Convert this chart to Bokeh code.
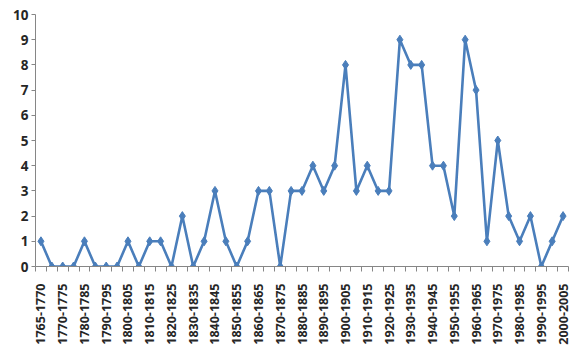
from bokeh.plotting import figure
from bokeh.models import FixedTicker, Range1d
from bokeh.embed import file_html
from bokeh.resources import INLINE

# 49 periods; only every other one is labelled on the axis
tick_labels = ["1765-1770", "1770-1775", "1780-1785", "1790-1795", "1800-1805",
               "1810-1815", "1820-1825", "1830-1835", "1840-1845", "1850-1855",
               "1860-1865", "1870-1875", "1880-1885", "1890-1895", "1900-1905",
               "1910-1915", "1920-1925", "1930-1935", "1940-1945", "1950-1955",
               "1960-1965", "1970-1975", "1980-1985", "1990-1995", "2000-2005"]
counts = [1, 0, 0, 0, 1, 0, 0, 0, 1, 0,
          1, 1, 0, 2, 0, 1, 3, 1, 0, 1,
          3, 3, 0, 3, 3, 4, 3, 4, 8, 3,
          4, 3, 3, 9, 8, 8, 4, 4, 2, 9,
          7, 1, 5, 2, 1, 2, 0, 1, 2]
y_ticks = [0, 1, 2, 3, 4, 5, 6, 7, 8, 9, 10]

n = len(counts)
xs = list(range(n))
label_pos = list(range(0, n, 2))

p = figure(width=580, height=360, output_backend="svg", toolbar_location=None,
           x_range=Range1d(-0.5, n - 0.5), y_range=Range1d(0, 10),
           min_border_left=35, min_border_right=12, min_border_top=14, min_border_bottom=94)
p.outline_line_color = None
p.xgrid.visible = False
p.ygrid.visible = False
p.background_fill_color = "white"
p.border_fill_color = "white"

color = "#4A7EBB"
p.line(xs, counts, line_color=color, line_width=2.6)
p.scatter(xs, counts, marker="diamond", size=9, fill_color=color, line_color=color)

p.xaxis.ticker = FixedTicker(ticks=label_pos, minor_ticks=[i - 0.5 for i in range(n + 1)])
p.xaxis.major_label_overrides = {pos: lab for pos, lab in zip(label_pos, tick_labels)}
p.xaxis.major_label_orientation = 1.5708
p.xaxis.major_tick_out = 0
p.xaxis.major_tick_in = 0
p.xaxis.minor_tick_out = 5
p.xaxis.minor_tick_in = 0
p.xaxis.minor_tick_line_color = "#868686"
p.xaxis.axis_line_color = "#868686"
p.xaxis.major_label_text_font = "Open Sans"
p.xaxis.major_label_text_font_style = "bold"
p.xaxis.major_label_text_font_size = "12.5px"
p.xaxis.major_label_text_color = "#262626"
p.xaxis.major_label_standoff = 12

p.yaxis.ticker = FixedTicker(ticks=y_ticks, minor_ticks=[])
p.yaxis.major_tick_out = 4
p.yaxis.major_tick_in = 0
p.yaxis.major_tick_line_color = "#868686"
p.yaxis.axis_line_color = "#868686"
p.yaxis.major_label_text_font = "Open Sans"
p.yaxis.major_label_text_font_style = "bold"
p.yaxis.major_label_text_font_size = "13.5px"
p.yaxis.major_label_text_color = "#262626"
p.yaxis.major_label_standoff = 3

open("out.html", "w").write(file_html(p, INLINE))
